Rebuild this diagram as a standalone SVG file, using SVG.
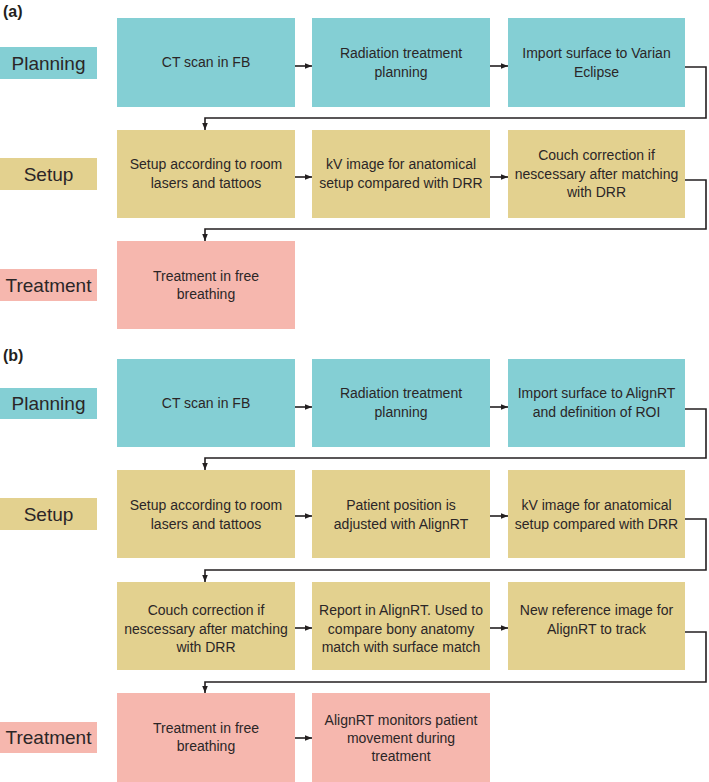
<svg xmlns="http://www.w3.org/2000/svg" width="709" height="782" viewBox="0 0 709 782">
<defs>
<style>
.bg{fill:#ffffff}
.plan{fill:#84cfd4}
.setup{fill:#e3d18f}
.treat{fill:#f6b7ae}
.t{font-family:"Liberation Sans",Arial,sans-serif;font-size:14px;fill:#2b2627;text-anchor:middle}
.lbl{font-family:"Liberation Sans",Arial,sans-serif;font-size:19px;fill:#2b2627;text-anchor:middle}
.pl{font-family:"Liberation Sans",Arial,sans-serif;font-size:16px;font-weight:bold;fill:#231f20}
.c{fill:none;stroke:#231f20;stroke-width:1.6}
</style>
<marker id="ah" viewBox="0 0 10 10" refX="10" refY="5" markerWidth="7" markerHeight="7" markerUnits="userSpaceOnUse" orient="auto">
<path d="M0,1 L10,5 L0,9 z" fill="#231f20"/>
</marker>
</defs>
<rect class="bg" x="0" y="0" width="709" height="782"/>

<text class="pl" x="3" y="17">(a)</text>
<text class="pl" x="3" y="361">(b)</text>

<!-- (a) phase labels -->
<g id="a-label-planning"><rect class="plan" x="0" y="47" width="97" height="32"/><text class="lbl" x="48.5" y="70">Planning</text></g>
<g id="a-label-setup"><rect class="setup" x="0" y="158" width="97" height="32"/><text class="lbl" x="48.5" y="181">Setup</text></g>
<g id="a-label-treatment"><rect class="treat" x="0" y="269" width="97" height="32"/><text class="lbl" x="48.5" y="292">Treatment</text></g>

<!-- (a) nodes -->
<g id="a1"><rect class="plan" x="117" y="18" width="178" height="89"/><text class="t" x="206" y="67">CT scan in FB</text></g>
<g id="a2"><rect class="plan" x="312" y="18" width="178" height="89"/><text class="t" x="401" y="58">Radiation treatment</text><text class="t" x="401" y="77">planning</text></g>
<g id="a3"><rect class="plan" x="508" y="18" width="177" height="89"/><text class="t" x="596.5" y="58">Import surface to Varian</text><text class="t" x="596.5" y="77">Eclipse</text></g>

<g id="a4"><rect class="setup" x="117" y="130" width="178" height="88"/><text class="t" x="206" y="169">Setup according to room</text><text class="t" x="206" y="188">lasers and tattoos</text></g>
<g id="a5"><rect class="setup" x="312" y="130" width="178" height="88"/><text class="t" x="401" y="169">kV image for anatomical</text><text class="t" x="401" y="188">setup compared with DRR</text></g>
<g id="a6"><rect class="setup" x="508" y="130" width="177" height="88"/><text class="t" x="596.5" y="160">Couch correction if</text><text class="t" x="596.5" y="178.5">nescessary after matching</text><text class="t" x="596.5" y="197">with DRR</text></g>

<g id="a7"><rect class="treat" x="117" y="241" width="178" height="88"/><text class="t" x="206" y="281">Treatment in free</text><text class="t" x="206" y="299">breathing</text></g>

<!-- (b) phase labels -->
<g id="b-label-planning"><rect class="plan" x="0" y="388" width="97" height="31"/><text class="lbl" x="48.5" y="410">Planning</text></g>
<g id="b-label-setup"><rect class="setup" x="0" y="498" width="97" height="32"/><text class="lbl" x="48.5" y="521">Setup</text></g>
<g id="b-label-treatment"><rect class="treat" x="0" y="722" width="97" height="31"/><text class="lbl" x="48.5" y="744">Treatment</text></g>

<!-- (b) nodes -->
<g id="b1"><rect class="plan" x="117" y="359" width="178" height="88"/><text class="t" x="206" y="408">CT scan in FB</text></g>
<g id="b2"><rect class="plan" x="312" y="359" width="178" height="88"/><text class="t" x="401" y="398">Radiation treatment</text><text class="t" x="401" y="417">planning</text></g>
<g id="b3"><rect class="plan" x="508" y="359" width="177" height="88"/><text class="t" x="596.5" y="398">Import surface to AlignRT</text><text class="t" x="596.5" y="417">and definition of ROI</text></g>

<g id="b4"><rect class="setup" x="117" y="470" width="178" height="88"/><text class="t" x="206" y="510">Setup according to room</text><text class="t" x="206" y="529">lasers and tattoos</text></g>
<g id="b5"><rect class="setup" x="312" y="470" width="178" height="88"/><text class="t" x="401" y="510">Patient position is</text><text class="t" x="401" y="529">adjusted with AlignRT</text></g>
<g id="b6"><rect class="setup" x="508" y="470" width="177" height="88"/><text class="t" x="596.5" y="510">kV image for anatomical</text><text class="t" x="596.5" y="529">setup compared with DRR</text></g>

<g id="b7"><rect class="setup" x="117" y="582" width="178" height="88"/><text class="t" x="206" y="615">Couch correction if</text><text class="t" x="206" y="633.5">nescessary after matching</text><text class="t" x="206" y="652">with DRR</text></g>
<g id="b8"><rect class="setup" x="312" y="582" width="178" height="88"/><text class="t" x="401" y="615">Report in AlignRT. Used to</text><text class="t" x="401" y="633.5">compare bony anatomy</text><text class="t" x="401" y="652">match with surface match</text></g>
<g id="b9"><rect class="setup" x="508" y="582" width="177" height="88"/><text class="t" x="596.5" y="615">New reference image for</text><text class="t" x="596.5" y="633.5">AlignRT to track</text></g>

<g id="b10"><rect class="treat" x="117" y="693" width="178" height="89"/><text class="t" x="206" y="733">Treatment in free</text><text class="t" x="206" y="751">breathing</text></g>
<g id="b11"><rect class="treat" x="312" y="693" width="178" height="89"/><text class="t" x="401" y="725">AlignRT monitors patient</text><text class="t" x="401" y="743">movement during</text><text class="t" x="401" y="761">treatment</text></g>

<!-- connectors -->
<g id="connectors">
<path class="c" marker-end="url(#ah)" d="M295,66 H312"/>
<path class="c" marker-end="url(#ah)" d="M490,66 H508"/>
<path class="c" marker-end="url(#ah)" d="M685,67 H706 V118 H205 V130"/>
<path class="c" marker-end="url(#ah)" d="M295,177 H312"/>
<path class="c" marker-end="url(#ah)" d="M490,177 H508"/>
<path class="c" marker-end="url(#ah)" d="M685,180 H706 V229 H205 V241"/>

<path class="c" marker-end="url(#ah)" d="M295,407 H312"/>
<path class="c" marker-end="url(#ah)" d="M490,407 H508"/>
<path class="c" marker-end="url(#ah)" d="M685,409 H706 V458 H205 V470"/>
<path class="c" marker-end="url(#ah)" d="M295,516 H312"/>
<path class="c" marker-end="url(#ah)" d="M490,516 H508"/>
<path class="c" marker-end="url(#ah)" d="M685,519 H706 V570 H205 V582"/>
<path class="c" marker-end="url(#ah)" d="M295,628 H312"/>
<path class="c" marker-end="url(#ah)" d="M490,628 H508"/>
<path class="c" marker-end="url(#ah)" d="M685,632 H706 V682 H205 V693"/>
<path class="c" marker-end="url(#ah)" d="M295,738 H312"/>
</g>
</svg>
